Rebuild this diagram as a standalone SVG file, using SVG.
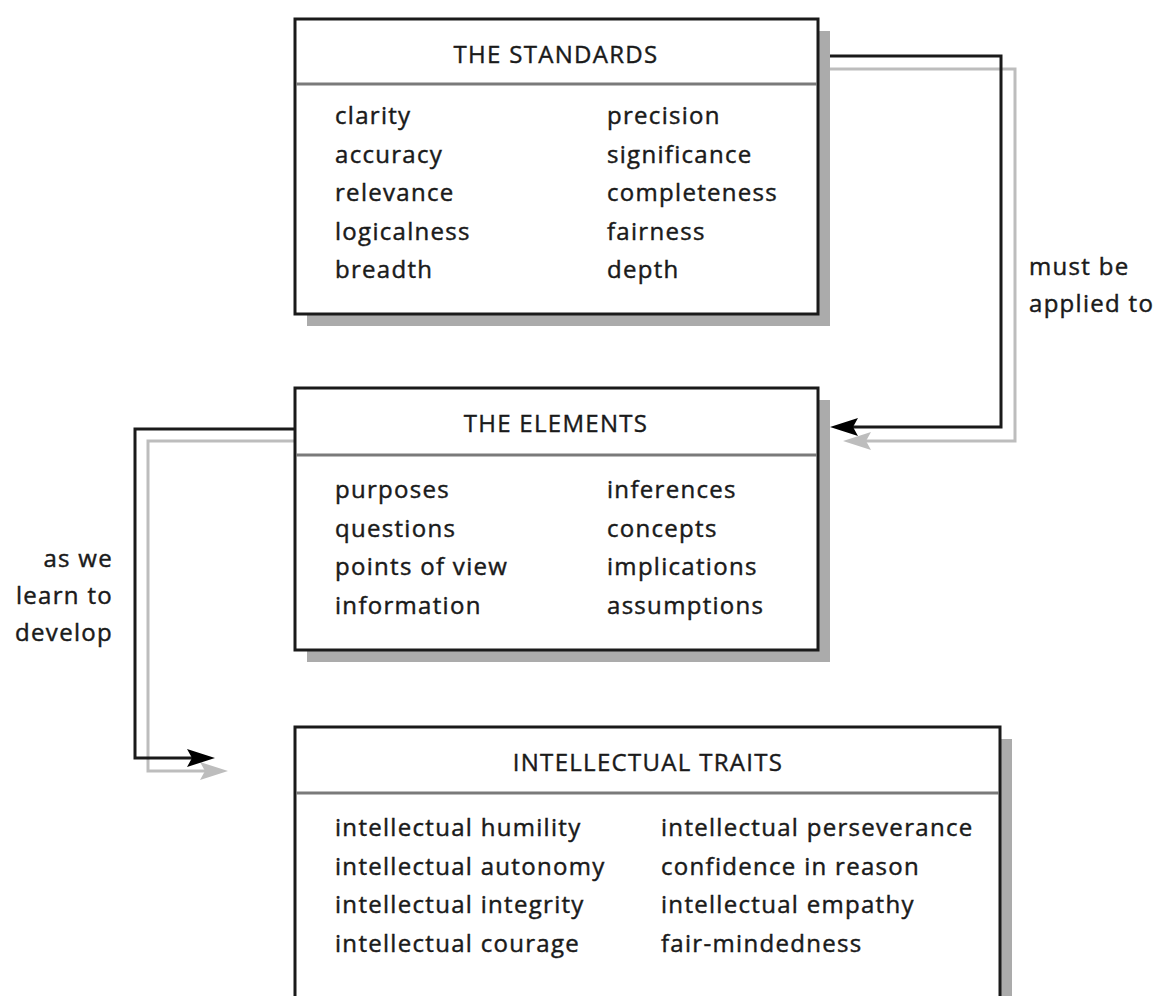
<svg xmlns="http://www.w3.org/2000/svg" width="1160" height="996" viewBox="0 0 1160 996">
<style>
  .shadow { fill: #ababab; }
  .box { fill: #ffffff; stroke: #1a1a1a; stroke-width: 3; }
  .div { stroke: #7a7a7a; stroke-width: 3; }
  .title { font-family: "Open Sans", "Noto Sans", sans-serif; font-size: 24px; letter-spacing: 1.3px; fill: #1a1a1a; stroke: #1a1a1a; stroke-width: 0.4px; text-anchor: middle; }
  .item { font-family: "Open Sans", "Noto Sans", sans-serif; font-size: 24px; letter-spacing: 1.3px; fill: #1a1a1a; stroke: #1a1a1a; stroke-width: 0.45px; }
  .lbl { font-family: "Open Sans", "Noto Sans", sans-serif; font-size: 24px; letter-spacing: 1.3px; fill: #1a1a1a; stroke: #1a1a1a; stroke-width: 0.45px; }
  .blk { fill: none; stroke: #1a1a1a; stroke-width: 3; }
  .gry { fill: none; stroke: #bdbdbd; stroke-width: 3; }
</style>
<defs>
  <marker id="ahB" viewBox="0 -10 28 20" refX="8" refY="0" markerWidth="28" markerHeight="20" markerUnits="userSpaceOnUse" orient="auto">
    <path d="M28,0 L0,-9 L5,0 L0,9 Z" fill="#000000"/>
  </marker>
  <marker id="ahG" viewBox="0 -10 28 20" refX="8" refY="0" markerWidth="28" markerHeight="20" markerUnits="userSpaceOnUse" orient="auto">
    <path d="M28,0 L0,-9 L5,0 L0,9 Z" fill="#bdbdbd"/>
  </marker>
</defs>
<rect width="1160" height="996" fill="#ffffff"/>

<g id="connectors">
  <polyline class="gry" points="830,69 1015,69 1015,441 863,441" marker-end="url(#ahG)"/>
  <polyline class="blk" points="818,56 1001,56 1001,427 850,427" marker-end="url(#ahB)"/>
  <polyline class="gry" points="295,441 148,441 148,771 208,771" marker-end="url(#ahG)"/>
  <polyline class="blk" points="295,429 135,429 135,758 195,758" marker-end="url(#ahB)"/>
  <text class="lbl" x="1029" y="275">must be</text>
  <text class="lbl" x="1029" y="312">applied to</text>
  <text class="lbl" x="113" y="567" text-anchor="end">as we</text>
  <text class="lbl" x="113" y="604" text-anchor="end">learn to</text>
  <text class="lbl" x="113" y="641" text-anchor="end">develop</text>
</g>

<g id="standards">
  <rect class="shadow" x="307" y="31" width="523" height="295"/>
  <rect class="box" x="295" y="19" width="523" height="295"/>
  <line class="div" x1="296" y1="84" x2="817" y2="84"/>
  <text class="title" x="556" y="63">THE STANDARDS</text>
  <text class="item" x="335" y="124">clarity</text>
  <text class="item" x="335" y="162.5">accuracy</text>
  <text class="item" x="335" y="201">relevance</text>
  <text class="item" x="335" y="239.5">logicalness</text>
  <text class="item" x="335" y="278">breadth</text>
  <text class="item" x="607" y="124">precision</text>
  <text class="item" x="607" y="162.5">significance</text>
  <text class="item" x="607" y="201">completeness</text>
  <text class="item" x="607" y="239.5">fairness</text>
  <text class="item" x="607" y="278">depth</text>
</g>

<g id="elements">
  <rect class="shadow" x="307" y="400" width="523" height="262"/>
  <rect class="box" x="295" y="388" width="523" height="262"/>
  <line class="div" x1="296" y1="455" x2="817" y2="455"/>
  <text class="title" x="556" y="432">THE ELEMENTS</text>
  <text class="item" x="335" y="498">purposes</text>
  <text class="item" x="335" y="536.5">questions</text>
  <text class="item" x="335" y="575">points of view</text>
  <text class="item" x="335" y="613.5">information</text>
  <text class="item" x="607" y="498">inferences</text>
  <text class="item" x="607" y="536.5">concepts</text>
  <text class="item" x="607" y="575">implications</text>
  <text class="item" x="607" y="613.5">assumptions</text>
</g>

<g id="traits">
  <rect class="shadow" x="307" y="739" width="705" height="300"/>
  <rect class="box" x="295" y="727" width="705" height="300"/>
  <line class="div" x1="296" y1="793" x2="999" y2="793"/>
  <text class="title" x="648" y="771">INTELLECTUAL TRAITS</text>
  <text class="item" x="335" y="836">intellectual humility</text>
  <text class="item" x="335" y="874.5">intellectual autonomy</text>
  <text class="item" x="335" y="913">intellectual integrity</text>
  <text class="item" x="335" y="951.5">intellectual courage</text>
  <text class="item" x="661" y="836">intellectual perseverance</text>
  <text class="item" x="661" y="874.5">confidence in reason</text>
  <text class="item" x="661" y="913">intellectual empathy</text>
  <text class="item" x="661" y="951.5">fair-mindedness</text>
</g>
</svg>
